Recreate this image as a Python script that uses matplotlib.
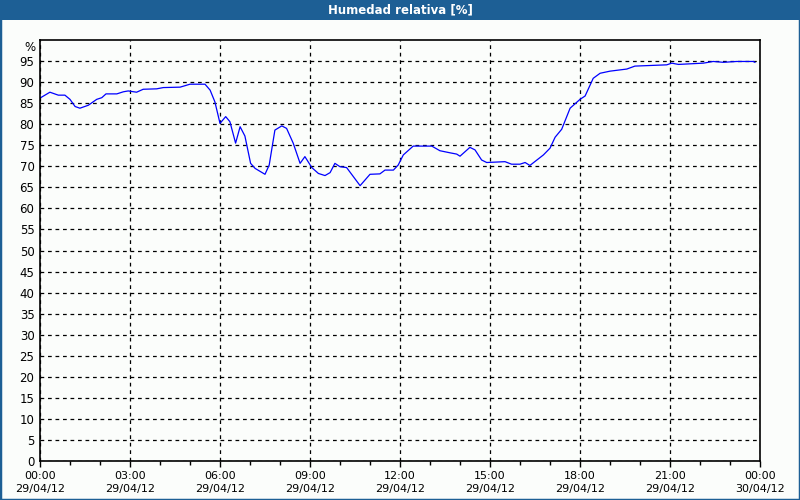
import matplotlib.pyplot as plt
from matplotlib.patches import Rectangle
from matplotlib.ticker import MultipleLocator
import numpy as np

# hours since 29/04/12 00:00 and relative humidity [%]
hours = [0.0, 0.33, 0.61, 0.83, 1.0, 1.17, 1.33, 1.61, 1.89, 2.06, 2.2, 2.56, 2.78, 2.94,
         3.22, 3.44, 3.89, 4.11, 4.67, 5.0, 5.5, 5.67, 5.83, 6.0, 6.19, 6.33, 6.52, 6.67,
         6.83, 7.02, 7.17, 7.5, 7.64, 7.83, 8.06, 8.22, 8.44, 8.67, 8.83, 9.06, 9.28, 9.5,
         9.67, 9.83, 10.0, 10.22, 10.67, 11.0, 11.33, 11.5, 11.78, 11.94, 12.11, 12.44,
         13.06, 13.33, 13.67, 13.89, 14.0, 14.33, 14.5, 14.72, 14.89, 15.5, 15.72, 16.0,
         16.17, 16.33, 16.78, 17.0, 17.17, 17.39, 17.67, 18.0, 18.17, 18.44, 18.67, 19.0,
         19.56, 19.83, 20.89, 21.06, 21.28, 22.11, 22.44, 22.78, 23.22, 23.78, 23.83]
humidity = [86.2, 87.6, 86.9, 86.9, 85.9, 84.2, 83.8, 84.5, 85.9, 86.3, 87.2, 87.2, 87.7, 87.9,
            87.6, 88.3, 88.4, 88.7, 88.8, 89.5, 89.5, 88.1, 85.3, 80.2, 81.8, 80.6, 75.5, 79.4,
            77.2, 70.7, 69.5, 68.1, 70.3, 78.6, 79.6, 79.0, 75.5, 70.7, 72.3, 69.7, 68.3, 67.8,
            68.5, 70.7, 69.9, 69.7, 65.4, 68.1, 68.2, 69.1, 69.1, 70.3, 72.7, 74.8,
            74.8, 73.7, 73.2, 72.9, 72.4, 74.5, 73.9, 71.5, 70.9, 71.1, 70.5, 70.5,
            70.9, 70.2, 72.7, 74.3, 76.9, 78.8, 83.8, 85.9, 86.7, 90.9, 92.1, 92.6,
            93.1, 93.8, 94.1, 94.5, 94.2, 94.5, 94.9, 94.7, 94.9, 94.9, 94.7]

xtick_hours = [0, 3, 6, 9, 12, 15, 18, 21, 24]
xtick_labels = ["00:00\n29/04/12", "03:00\n29/04/12", "06:00\n29/04/12", "09:00\n29/04/12",
                "12:00\n29/04/12", "15:00\n29/04/12", "18:00\n29/04/12", "21:00\n29/04/12",
                "00:00\n30/04/12"]

bg = "#fbfdfb"
blue = "#1d5f95"

fig = plt.figure(figsize=(8, 5), dpi=100, facecolor=bg)
# title bar and outer frame
fig.patches.append(Rectangle((0, 0.96), 1, 0.04, transform=fig.transFigure,
                             facecolor=blue, edgecolor="none", zorder=0))
fig.patches.append(Rectangle((0, 0), 1, 1, transform=fig.transFigure,
                             facecolor="none", edgecolor=blue, linewidth=2.5, zorder=5))
fig.text(0.5, 0.98, "Humedad relativa [%]", color="white", fontsize=8.5,
         fontweight="bold", ha="center", va="center")

ax = fig.add_axes([0.05, 0.078, 0.9, 0.842], facecolor=bg)
ax.plot(hours, humidity, color="#0000ff", linewidth=0.9)

ax.set_xlim(0, 24)
ax.set_ylim(0, 100)
ax.set_xticks(xtick_hours)
ax.set_xticklabels(xtick_labels, fontsize=8, linespacing=1.45)
ax.xaxis.set_minor_locator(MultipleLocator(1))
ax.set_yticks(np.arange(0, 96, 5))
ax.tick_params(axis="y", length=0, pad=4, labelsize=8.5)
ax.tick_params(axis="x", which="major", length=4, pad=3, width=1)
ax.tick_params(axis="x", which="minor", length=3, width=1)
ax.grid(True, color="black", linestyle=(0, (3, 3)), linewidth=0.9)
for s in ax.spines.values():
    s.set_linewidth(1.2)
ax.text(-0.006, 98.3, "%", transform=ax.get_yaxis_transform(), ha="right", va="center",
        fontsize=8.5)

fig.savefig("out.png", dpi=100, facecolor=bg)
